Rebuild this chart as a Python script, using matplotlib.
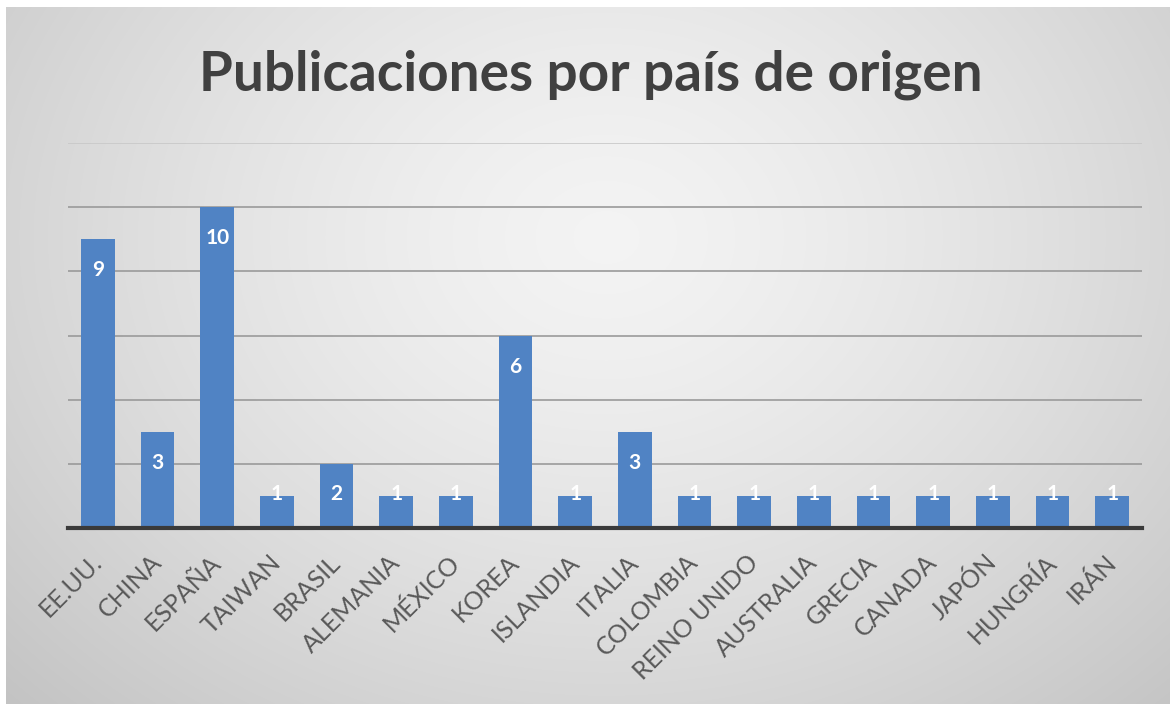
import numpy as np
import matplotlib
matplotlib.use("Agg")
import matplotlib.pyplot as plt

paises = ["EE.UU.", "CHINA", "ESPAÑA", "TAIWAN", "BRASIL", "ALEMANIA", "MÉXICO",
          "KOREA", "ISLANDIA", "ITALIA", "COLOMBIA", "REINO UNIDO", "AUSTRALIA",
          "GRECIA", "CANADA", "JAPÓN", "HUNGRÍA", "IRÁN"]
publicaciones = [9, 3, 10, 1, 2, 1, 1, 6, 1, 3, 1, 1, 1, 1, 1, 1, 1, 1]
titulo = "Publicaciones por país de origen"

plt.rcParams["font.family"] = ["Lato", "DejaVu Sans"]

fig = plt.figure(figsize=(11.7, 7.04), dpi=100)
fig.patch.set_facecolor("white")

# fondo con degradado radial (claro al centro, gris en los bordes)
bg = fig.add_axes([6 / 1170, 0, 1 - 6 / 1170, 1 - 7 / 704], zorder=-10)
yy, xx = np.mgrid[0:697, 0:1164]
r = np.sqrt(((xx - 600) / 700.0) ** 2 + ((yy - 230) / 560.0) ** 2)
r = np.clip(r / r.max(), 0, 1)
shade = 0.955 - 0.19 * r ** 1.4
bg.imshow(np.dstack([shade] * 3), aspect="auto", interpolation="bilinear")
bg.axis("off")

ax = fig.add_axes([68 / 1170, 1 - 528 / 704, (1142 - 68) / 1170, (528 - 143) / 704])
ax.patch.set_alpha(0)

x = np.arange(len(paises))
ax.bar(x, publicaciones, width=0.56, color="#5083C4", zorder=3)

ax.set_xlim(-0.5, len(paises) - 0.5)
ax.set_ylim(0, 12)
ax.set_yticks(np.arange(0, 13, 2))
ax.yaxis.grid(True, color="#9a9a9a", linewidth=1.2, zorder=1)
ax.get_ygridlines()[-1].set_color("#c8c8c8")
ax.tick_params(axis="y", left=False, labelleft=False)
ax.tick_params(axis="x", length=0, pad=22)
for s in ["top", "right", "left"]:
    ax.spines[s].set_visible(False)
ax.spines["bottom"].set_color("#3a3a3a")
ax.spines["bottom"].set_linewidth(3)
ax.spines["bottom"].set_zorder(4)

ax.set_xticks(x)
ax.set_xticklabels(paises, rotation=45, ha="right", va="center",
                   rotation_mode="anchor", fontsize=18, color="#595959")

for xi, v in zip(x, publicaciones):
    ypos = max(v - 0.97, 1.05)
    ax.text(xi, ypos, str(v), ha="center", va="center", color="white",
            fontsize=15, fontweight="bold", zorder=5)

fig.text(591 / 1170, 1 - 90 / 704, titulo, ha="center", va="baseline",
         fontsize=39.5, fontweight="bold", color="#404040")

fig.savefig("out.png", dpi=100)
